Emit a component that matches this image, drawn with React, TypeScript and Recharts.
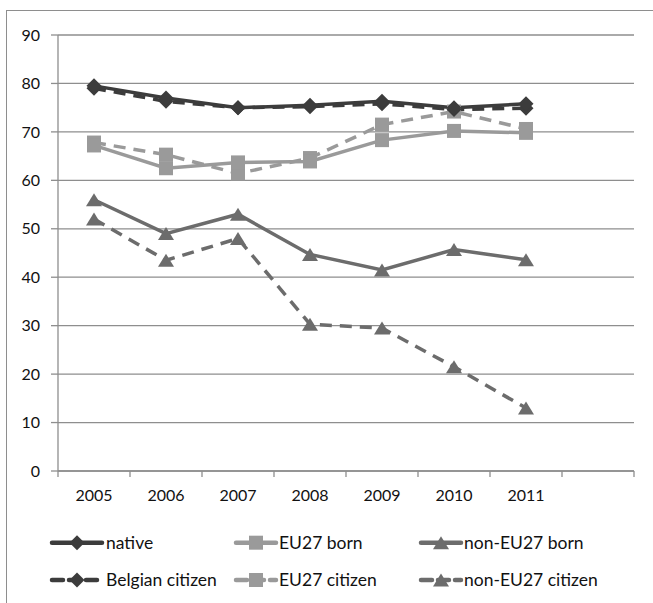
import React from 'react';
import { LineChart, Line, XAxis, YAxis, CartesianGrid } from 'recharts';

const years = ['2005', '2006', '2007', '2008', '2009', '2010', '2011'];
const native = [79.5, 77.0, 75.0, 75.5, 76.3, 75.0, 75.8];
const belgianCitizen = [79.0, 76.3, 75.0, 75.2, 75.8, 74.6, 74.9];
const eu27Born = [67.2, 62.5, 63.7, 63.9, 68.3, 70.2, 69.8];
const eu27Citizen = [67.8, 65.3, 61.4, 64.6, 71.5, 74.2, 70.6];
const nonEu27Born = [56.0, 49.0, 53.0, 44.7, 41.5, 45.7, 43.6];
const nonEu27Citizen = [52.0, 43.5, 48.0, 30.3, 29.5, 21.5, 13.0];
const yTicks = [0, 10, 20, 30, 40, 50, 60, 70, 80, 90];

const DARK = '#3c3c3c';
const LIGHT = '#9a9a9a';
const MID = '#6c6c6c';
const GRID = '#8e8e8e';
const FONT = 'Lato, "Open Sans", sans-serif';
const X_TICK_SIZE = 6;
const X_TICK_MARGIN = 13;

type Shape = 'diamond' | 'square' | 'triangle';

const series: { key: string; name: string; values: number[]; color: string; dashed: boolean; shape: Shape }[] = [
  { key: 'nonEu27Citizen', name: 'non-EU27 citizen', values: nonEu27Citizen, color: MID, dashed: true, shape: 'triangle' },
  { key: 'nonEu27Born', name: 'non-EU27 born', values: nonEu27Born, color: MID, dashed: false, shape: 'triangle' },
  { key: 'eu27Citizen', name: 'EU27 citizen', values: eu27Citizen, color: LIGHT, dashed: true, shape: 'square' },
  { key: 'eu27Born', name: 'EU27 born', values: eu27Born, color: LIGHT, dashed: false, shape: 'square' },
  { key: 'belgianCitizen', name: 'Belgian citizen', values: belgianCitizen, color: DARK, dashed: true, shape: 'diamond' },
  { key: 'native', name: 'native', values: native, color: DARK, dashed: false, shape: 'diamond' },
];

const legendRows = [
  ['native', 'EU27 born', 'non-EU27 born'],
  ['Belgian citizen', 'EU27 citizen', 'non-EU27 citizen'],
];

const data: Record<string, any>[] = years.map((y, i) => {
  const row: Record<string, any> = { year: y };
  series.forEach((s) => {
    row[s.key] = s.values[i];
  });
  return row;
});
data.push({ year: ' ' });

function Marker({ cx, cy, shape, color }: { cx: number; cy: number; shape: Shape; color: string }) {
  if (shape === 'diamond') {
    const r = 7.5;
    return <polygon points={`${cx},${cy - r} ${cx + r},${cy} ${cx},${cy + r} ${cx - r},${cy}`} fill={color} />;
  }
  if (shape === 'square') {
    const r = 7;
    return <rect x={cx - r} y={cy - r} width={2 * r} height={2 * r} fill={color} />;
  }
  const w = 8, h = 6.5;
  return <polygon points={`${cx},${cy - h} ${cx + w},${cy + h} ${cx - w},${cy + h}`} fill={color} />;
}

const makeDot = (shape: Shape, color: string) => (props: any) => {
  const { cx, cy, index } = props;
  if (cx == null || cy == null || isNaN(cx) || isNaN(cy)) return <g key={`e${index}`} />;
  return <g key={`d${index}`}><Marker cx={cx} cy={cy} shape={shape} color={color} /></g>;
};

function CatTick(props: any) {
  const { x, y, payload, width, visibleTicksCount, index } = props;
  const count = visibleTicksCount || data.length;
  const half = payload && payload.offset ? payload.offset : Number(width) / (2 * count);
  const axisY = y - X_TICK_SIZE - X_TICK_MARGIN;
  const isLast = index === count - 1;
  return (
    <g>
      <line x1={x - half} x2={x - half} y1={axisY} y2={axisY + X_TICK_SIZE} stroke={GRID} strokeWidth={1.3} />
      {isLast && (
        <line x1={x + half} x2={x + half} y1={axisY} y2={axisY + X_TICK_SIZE} stroke={GRID} strokeWidth={1.3} />
      )}
      <text x={x} y={y} dy="0.71em" textAnchor="middle" fontSize={16} fontFamily={FONT} fill="#111">
        {payload.value}
      </text>
    </g>
  );
}

function LegendBox() {
  const cols = [
    { lineStart: 52, lineEnd: 102, textX: 106 },
    { lineStart: 236, lineEnd: 276, textX: 279 },
    { lineStart: 421, lineEnd: 461, textX: 464 },
  ];
  const rowsY = [22.7, 60];
  return (
    <svg width={653} height={83} style={{ position: 'absolute', left: 0, top: 520 }}>
      {legendRows.map((row, ri) =>
        row.map((name, ci) => {
          const s = series.find((x) => x.name === name)!;
          const c = cols[ci];
          const y = rowsY[ri];
          const mid = (c.lineStart + c.lineEnd) / 2;
          return (
            <g key={name}>
              <line
                x1={c.lineStart}
                x2={c.lineEnd}
                y1={y}
                y2={y}
                stroke={s.color}
                strokeWidth={4.5}
                strokeDasharray={s.dashed ? '11 6' : undefined}
                strokeLinecap="round"
              />
              <Marker cx={mid} cy={y} shape={s.shape} color={s.color} />
              <text x={c.textX} y={y} dy="0.35em" fontSize={17.5} fontFamily={FONT} fill="#111">
                {name}
              </text>
            </g>
          );
        })
      )}
    </svg>
  );
}

export default function App() {
  return (
    <div style={{ position: 'absolute', left: 0, top: 0, width: 653, height: 603, overflow: 'hidden', background: '#fff' }}>
      <div
        style={{
          position: 'absolute',
          left: 6,
          top: 10,
          width: 700,
          height: 700,
          borderLeft: `1.5px solid ${GRID}`,
          borderTop: `1.5px solid ${GRID}`,
        }}
      />
      <div style={{ position: 'absolute', left: 0, top: 0 }}>
        <LineChart width={653} height={520} data={data} margin={{ top: 35, right: 19, left: 0, bottom: 0 }}>
          <CartesianGrid horizontal vertical={false} stroke={GRID} strokeWidth={1.3} />
          <XAxis
            dataKey="year"
            type="category"
            scale="band"
            height={49}
            stroke={GRID}
            strokeWidth={1.3}
            tickLine={false}
            interval={0}
            tickSize={X_TICK_SIZE}
            tickMargin={X_TICK_MARGIN}
            tick={CatTick}
          />
          <YAxis
            width={58}
            domain={[0, 90]}
            ticks={yTicks}
            interval={0}
            stroke={GRID}
            strokeWidth={1.3}
            tickSize={7}
            tickMargin={11}
            tick={{ fill: '#111', fontSize: 16, fontFamily: FONT }}
          />
          {series.map((s) => (
            <Line
              key={s.key}
              type="linear"
              dataKey={s.key}
              name={s.name}
              stroke={s.color}
              strokeWidth={3.5}
              strokeDasharray={s.dashed ? '12 8' : undefined}
              dot={makeDot(s.shape, s.color)}
              activeDot={false}
              isAnimationActive={false}
            />
          ))}
        </LineChart>
      </div>
      <LegendBox />
    </div>
  );
}
